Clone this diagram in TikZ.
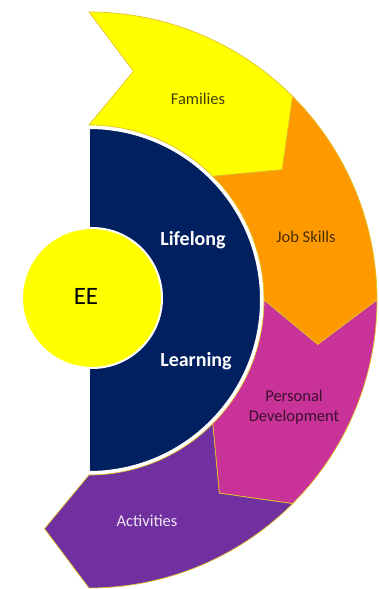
\documentclass[tikz,border=0pt]{standalone}
\usepackage{fontspec}
\setmainfont{Carlito}
\definecolor{segY}{RGB}{255,255,0}
\definecolor{segO}{RGB}{255,153,0}
\definecolor{segP}{RGB}{201,51,153}
\definecolor{segV}{RGB}{112,48,160}
\definecolor{navyb}{RGB}{0,32,96}
\definecolor{segedge}{RGB}{225,195,40}
\begin{document}
\begin{tikzpicture}[x=1pt,y=1pt,
  seg/.style={draw=segedge, line width=0.7pt, line join=miter},
  lab/.style={font=\fontsize{16.5}{20}\selectfont, align=center, inner sep=0pt},
  blab/.style={font=\fontsize{20}{23}\selectfont\bfseries, text=white, inner sep=0pt}]
\useasboundingbox (-89,-289) rectangle (289,300);
% outer chevron segments
\path[seg, fill=segY] (90:288pt) arc[start angle=90,end angle=45,radius=288pt] -- (34:233pt) -- (45:175pt) arc[start angle=45,end angle=90,radius=175pt] -- (79:233pt) -- cycle;
\path[seg, fill=segO] (45:288pt) arc[start angle=45,end angle=0,radius=288pt] -- (-11:233pt) -- (0:175pt) arc[start angle=0,end angle=45,radius=175pt] -- (34:233pt) -- cycle;
\path[seg, fill=segP] (0:288pt) arc[start angle=0,end angle=-45,radius=288pt] -- (-56:233pt) -- (-45:175pt) arc[start angle=-45,end angle=0,radius=175pt] -- (-11:233pt) -- cycle;
\path[seg, fill=segV] (-45:288pt) arc[start angle=-45,end angle=-90,radius=288pt] -- (-101:233pt) -- (-90:175pt) arc[start angle=-90,end angle=-45,radius=175pt] -- (-56:233pt) -- cycle;
% navy half disc
\path[fill=navyb, draw=white, line width=2pt] (0,172) arc[start angle=90,end angle=-90,radius=172pt] -- cycle;
% EE circle
\node[circle, fill=segY, draw=white, line width=2pt, minimum size=140pt, inner sep=0pt] (eec) at (3,2) {};
\node[font=\fontsize{25}{28}\selectfont, inner sep=0pt] (ee) at (-3,3.5) {EE};
% labels
\node[lab, text=black!75!segY] (fam) at (109,201.5) {Families};
\node[lab, text=black!70!segO] (job) at (217,63.5) {Job Skills};
\node[lab, text=black!70!segP] (pd) at (205,-107.5) {Personal\\Development};
\node[lab, text=white!88!segV] (act) at (58,-220.5) {Activities};
\node[blab] (lif) at (104,59.5) {Lifelong};
\node[blab] (lea) at (107,-61.5) {Learning};
\end{tikzpicture}
\end{document}
